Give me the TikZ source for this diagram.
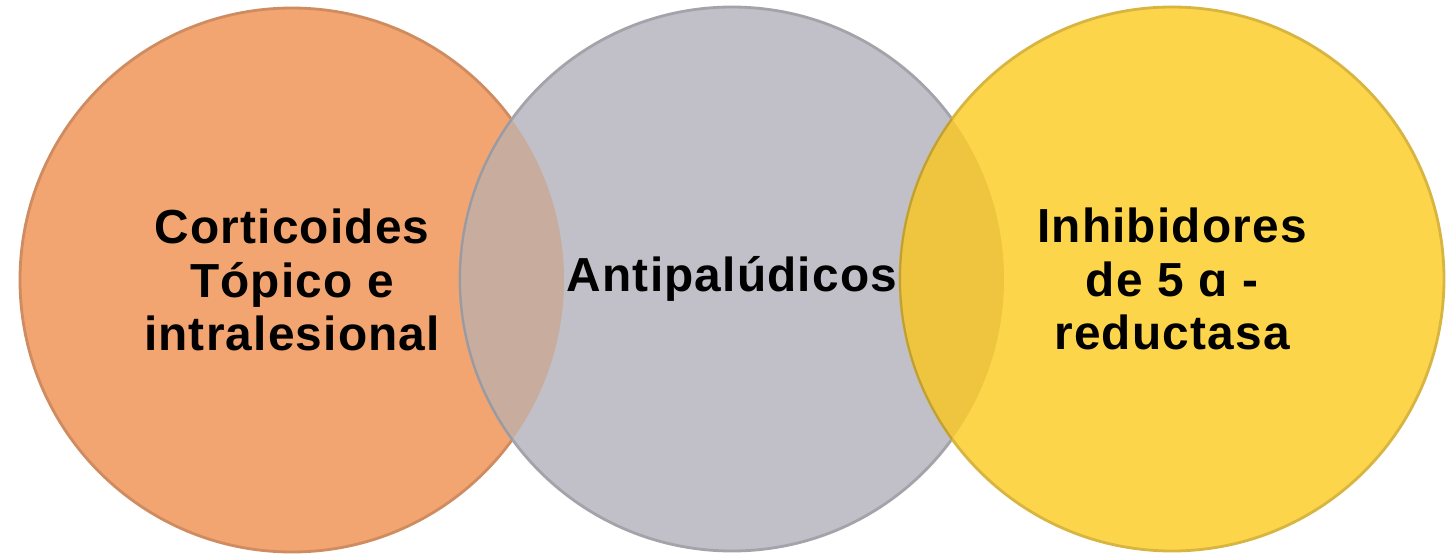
\documentclass[tikz,border=0pt]{standalone}
\usepackage{fontspec}
\setmainfont{Liberation Sans}

\definecolor{corange}{HTML}{F2A571}
\definecolor{cgrey}{HTML}{C1C0C8}
\definecolor{cyellow}{HTML}{FDD54B}
\definecolor{lensleft}{HTML}{C8AD9E}
\definecolor{lensright}{HTML}{EFC43F}

\tikzset{
  bubble/.style={circle, minimum size=5.44cm, inner sep=0pt, line width=0.8pt},
  label/.style={align=center, font=\fontsize{13.6}{15.2}\selectfont\bfseries\addfontfeature{LetterSpace=2.5}}
}

\begin{document}
\begin{tikzpicture}

\useasboundingbox (0,0) rectangle (14.51,5.56);

% the three circles
\node[bubble, fill=corange, draw=corange!85!black] (cort) at (2.92,2.76) {};
\node[bubble, fill=cgrey, draw=cgrey!85!black] (anti) at (7.32,2.77) {};
\node[bubble, fill=cyellow, draw=cyellow!85!black] (inhib) at (11.72,2.77) {};

% overlaps
\begin{scope}
\clip (2.92,2.76) circle (2.72);
\fill[lensleft, draw=cgrey!80!black, line width=0.6pt] (7.32,2.77) circle (2.72);
\end{scope}
\begin{scope}
\clip (7.32,2.77) circle (2.72);
\fill[lensright, draw=cyellow!75!black, line width=0.6pt] (11.72,2.77) circle (2.72);
\end{scope}

% texts
\node[label] (cortt) at (cort.center) {Corticoides\\Tópico e\\intralesional};
\node[label] (antit) at (anti.center) {Antipalúdicos};
\node[label] (inhibt) at (inhib.center) {Inhibidores\\de 5 ɑ -\\reductasa};

\end{tikzpicture}
\end{document}
